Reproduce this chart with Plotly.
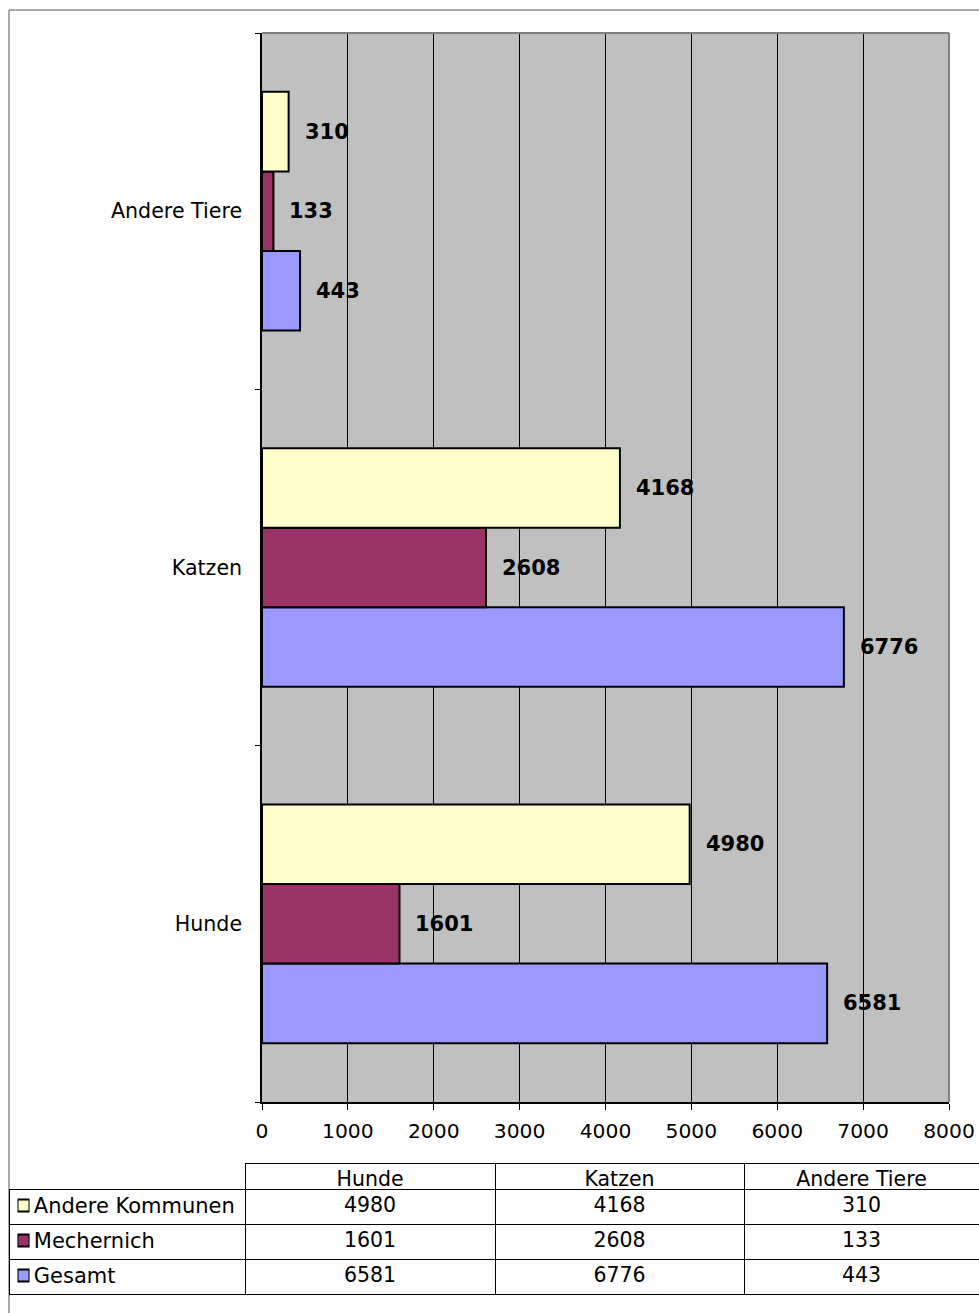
import plotly.graph_objects as go

categories = ["Hunde", "Katzen", "Andere Tiere"]
series_names = ["Andere Kommunen", "Mechernich", "Gesamt"]
andere_kommunen = [4980, 4168, 310]
mechernich = [1601, 2608, 133]
gesamt = [6581, 6776, 443]
x_ticks = [0, 1000, 2000, 3000, 4000, 5000, 6000, 7000, 8000]

colors = {"Andere Kommunen": "#FFFFCC", "Mechernich": "#993366", "Gesamt": "#9999FF"}
values = {"Andere Kommunen": andere_kommunen, "Mechernich": mechernich, "Gesamt": gesamt}

W, H = 979, 1313
FONT = "DejaVu Sans"
BARGAP = 0.33

def px(v, total):
    return v / total

fig = go.Figure()

# bottom-to-top order within group: Gesamt, Mechernich, Andere Kommunen
plot_order = ["Gesamt", "Mechernich", "Andere Kommunen"]
bw = (1 - BARGAP) / 3
for k, name in enumerate(plot_order):
    fig.add_trace(go.Bar(
        y=categories, x=values[name], orientation="h", name=name,
        marker=dict(color=colors[name], line=dict(color="black", width=2)),
        showlegend=False, hoverinfo="x+name",
    ))
    off = (k - 1) * bw
    for i, v in enumerate(values[name]):
        fig.add_annotation(
            x=v, y=i + off, xref="x", yref="y", text="<b>%d</b>" % v,
            showarrow=False, xanchor="left", yanchor="middle", xshift=14,
            font=dict(family=FONT, size=21, color="black"),
        )

# legend keys in table
fig.add_trace(go.Scatter(
    x=[0, 0, 0], y=plot_order, mode="markers", xaxis="x3", yaxis="y3",
    marker=dict(symbol="square", size=12, color=[colors[n] for n in plot_order],
                line=dict(color="black", width=2)),
    showlegend=False, hoverinfo="skip",
))

# data table
fig.add_trace(go.Table(
    domain=dict(x=[px(9, W), 1], y=[1 - px(1300, H), 1 - px(1163, H)]),
    columnwidth=[236, 250, 249, 235],
    header=dict(
        values=[""] + categories,
        align="center",
        height=26,
        fill=dict(color="rgba(0,0,0,0)"),
        line=dict(color=["rgba(0,0,0,0)", "black", "black", "black"], width=1),
        font=dict(family=FONT, size=20.5, color="black"),
    ),
    cells=dict(
        values=[["\u2002\u2009\u200a" + n.replace(" ", "\u00a0") for n in series_names],
                [andere_kommunen[0], mechernich[0], gesamt[0]],
                [andere_kommunen[1], mechernich[1], gesamt[1]],
                [andere_kommunen[2], mechernich[2], gesamt[2]]],
        align=["left", "center", "center", "center"],
        height=35,
        fill=dict(color="rgba(0,0,0,0)"),
        line=dict(color="black", width=1),
        font=dict(family=FONT, size=[21, 20.5, 20.5, 20.5], color="black"),
    ),
))

fig.update_layout(
    template="none",
    width=W, height=H, autosize=False,
    margin=dict(l=0, r=0, t=0, b=0, pad=0),
    paper_bgcolor="white",
    plot_bgcolor="rgba(0,0,0,0)",
    barmode="group", bargap=BARGAP, bargroupgap=0,
    font=dict(family=FONT, size=20, color="black"),
    xaxis=dict(
        domain=[px(262, W), px(949, W)], range=[0, 8000],
        tickvals=x_ticks, ticktext=[str(t) for t in x_ticks],
        showgrid=True, gridcolor="black", gridwidth=1, zeroline=False,
        showline=True, linecolor="black", linewidth=1.5,
        ticks="outside", ticklen=6, tickcolor="black", tickwidth=1,
        tickfont=dict(family=FONT, size=20.3, color="black"),
        ticklabelstandoff=4, automargin=False,
        fixedrange=True,
    ),
    yaxis=dict(
        domain=[1 - px(1102, H), 1 - px(33, H)],
        type="category", categoryorder="array", categoryarray=categories,
        showline=True, linecolor="black", linewidth=1.5,
        ticks="outside", ticklen=5, tickcolor="black", tickson="boundaries",
        showgrid=False, zeroline=False,
        tickfont=dict(family=FONT, size=20.6, color="black"),
        ticklabelstandoff=14, automargin=False,
        fixedrange=True,
    ),
    xaxis3=dict(domain=[px(17.5, W), px(29.5, W)], range=[-1, 1], visible=False,
                anchor="y3", fixedrange=True, automargin=False),
    yaxis3=dict(domain=[1 - px(1293, H), 1 - px(1188, H)], range=[-0.5, 2.5],
                type="category", categoryorder="array", categoryarray=plot_order,
                visible=False, anchor="x3", fixedrange=True, automargin=False),
    shapes=[
        # gray plot area background (below gridlines)
        dict(type="rect", xref="x domain", yref="y domain", x0=0, x1=1, y0=0, y1=1,
             fillcolor="#C0C0C0", line=dict(width=0), layer="below"),
        # outer chart frame
        dict(type="rect", xref="paper", yref="paper",
             x0=px(9, W), x1=1.2, y0=-0.2, y1=1 - px(10, H),
             line=dict(color="#555555", width=1), fillcolor="rgba(0,0,0,0)", layer="below"),
        # plot area top & right borders (gray)
        dict(type="line", xref="x domain", yref="y domain", x0=0, x1=1, y0=1, y1=1,
             line=dict(color="#808080", width=2), layer="above"),
        dict(type="line", xref="x domain", yref="y domain", x0=1, x1=1, y0=0, y1=1,
             line=dict(color="#808080", width=2), layer="above"),
    ],
)

fig.write_html(
    "out.html",
    config={"displayModeBar": False, "responsive": False},
    post_script="document.body.style.margin='0';document.body.style.overflow='hidden';",
)
